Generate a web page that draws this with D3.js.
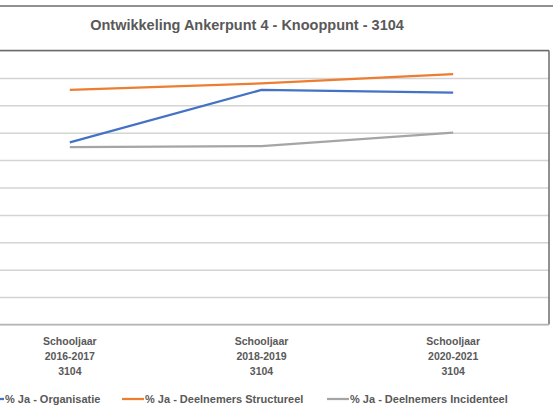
<!DOCTYPE html>
<html lang="nl">
<head>
<meta charset="utf-8">
<title>Ontwikkeling Ankerpunt 4</title>
<script src="https://cdn.jsdelivr.net/npm/d3@7"></script>
<style>
  body { margin: 0; background: #fff; }
  svg { display: block; font-family: "Liberation Sans", Arial, sans-serif; }
  .grid line { stroke: #d4d4d4; stroke-width: 1.5px; }
  .grid path { display: none; }
  .xaxis path, .xaxis line { display: none; }
  .xaxis text { fill: #595959; font-size: 10.5px; font-weight: bold; }
  .legend text { fill: #595959; font-size: 11px; font-weight: bold; }
</style>
</head>
<body>
<div id="chart"></div>
<script>
var width = 553,
    height = 406;

// categories (x-axis labels, three lines each)
var catTop = ["Schooljaar", "Schooljaar", "Schooljaar"];
var catYears = ["2016-2017", "2018-2019", "2020-2021"];
var catCode = ["3104", "3104", "3104"];

// series values (% Ja)
var organisatie = [66.5, 85.6, 84.6];
var structureel = [85.6, 88.0, 91.4];
var incidenteel = [64.7, 65.1, 70.0];

var seriesNames = ["% Ja - Organisatie", "% Ja - Deelnemers Structureel", "% Ja - Deelnemers Incidenteel"];
var seriesColors = ["#4472c4", "#ed7d31", "#a5a5a5"];

var yTicks = [0, 10, 20, 30, 40, 50, 60, 70, 80, 90, 100];

var plot = { left: -26, right: 549, top: 50.5, bottom: 324.5 };

var svg = d3.select("#chart")
    .append("svg")
    .attr("width", width)
    .attr("height", height);

// outer chart border (top)
svg.append("line")
    .attr("x1", 0).attr("x2", width)
    .attr("y1", 6).attr("y2", 6)
    .attr("stroke", "#6b6b6b").attr("stroke-width", 1.5);

svg.append("text")
    .attr("x", 247)
    .attr("y", 30)
    .attr("text-anchor", "middle")
    .attr("fill", "#595959")
    .style("font-size", "14.5px")
    .style("font-weight", "bold")
    .text("Ontwikkeling Ankerpunt 4 - Knooppunt - 3104");

var x = d3.scaleBand()
    .domain(catYears)
    .range([plot.left, plot.right]);

var y = d3.scaleLinear()
    .domain([0, 100])
    .range([plot.bottom, plot.top]);

// gridlines
svg.append("g")
    .attr("class", "grid")
    .attr("transform", "translate(" + plot.left + ",0)")
    .call(d3.axisLeft(y).tickValues(yTicks).tickSize(-(plot.right - plot.left)).tickFormat(""));

// plot border
svg.append("line")
    .attr("x1", plot.left).attr("x2", plot.right)
    .attr("y1", plot.top).attr("y2", plot.top)
    .attr("stroke", "#6b6b6b").attr("stroke-width", 1.5);
svg.append("line")
    .attr("x1", plot.right).attr("x2", plot.right)
    .attr("y1", plot.top).attr("y2", plot.bottom)
    .attr("stroke", "#6b6b6b").attr("stroke-width", 1.5);
svg.append("line")
    .attr("x1", plot.left).attr("x2", plot.right)
    .attr("y1", plot.bottom).attr("y2", plot.bottom)
    .attr("stroke", "#b5b5b5").attr("stroke-width", 1.5);

// x axis labels
var xAxis = svg.append("g")
    .attr("class", "xaxis")
    .attr("transform", "translate(0," + plot.bottom + ")")
    .call(d3.axisBottom(x).tickSize(0).tickFormat(""));

xAxis.selectAll(".tick text").remove();
xAxis.selectAll(".tick").each(function(d, i) {
  var t = d3.select(this).append("text")
      .attr("text-anchor", "middle")
      .attr("y", 20);
  t.append("tspan").attr("x", 0).attr("dy", 0).text(catTop[i]);
  t.append("tspan").attr("x", 0).attr("dy", 15).text(catYears[i]);
  t.append("tspan").attr("x", 0).attr("dy", 15).text(catCode[i]);
});

// lines
var series = [organisatie, structureel, incidenteel];
var line = d3.line()
    .x(function(d, i) { return x(catYears[i]) + x.bandwidth() / 2; })
    .y(function(d) { return y(d); });

// draw gray first, then blue, orange on top
[2, 0, 1].forEach(function(k) {
  svg.append("path")
      .datum(series[k])
      .attr("fill", "none")
      .attr("stroke", seriesColors[k])
      .attr("stroke-width", 2.25)
      .attr("stroke-linejoin", "round")
      .attr("d", line);
});

// legend
var legendX = [-18, 122, 327];
var legend = svg.append("g").attr("class", "legend");
seriesNames.forEach(function(name, i) {
  var g = legend.append("g").attr("transform", "translate(" + legendX[i] + ",399)");
  g.append("line")
      .attr("x1", 0).attr("x2", 22)
      .attr("stroke", seriesColors[i])
      .attr("stroke-width", 2.25);
  g.append("text")
      .attr("x", 23)
      .attr("dy", "0.35em")
      .text(name);
});
</script>
</body>
</html>
